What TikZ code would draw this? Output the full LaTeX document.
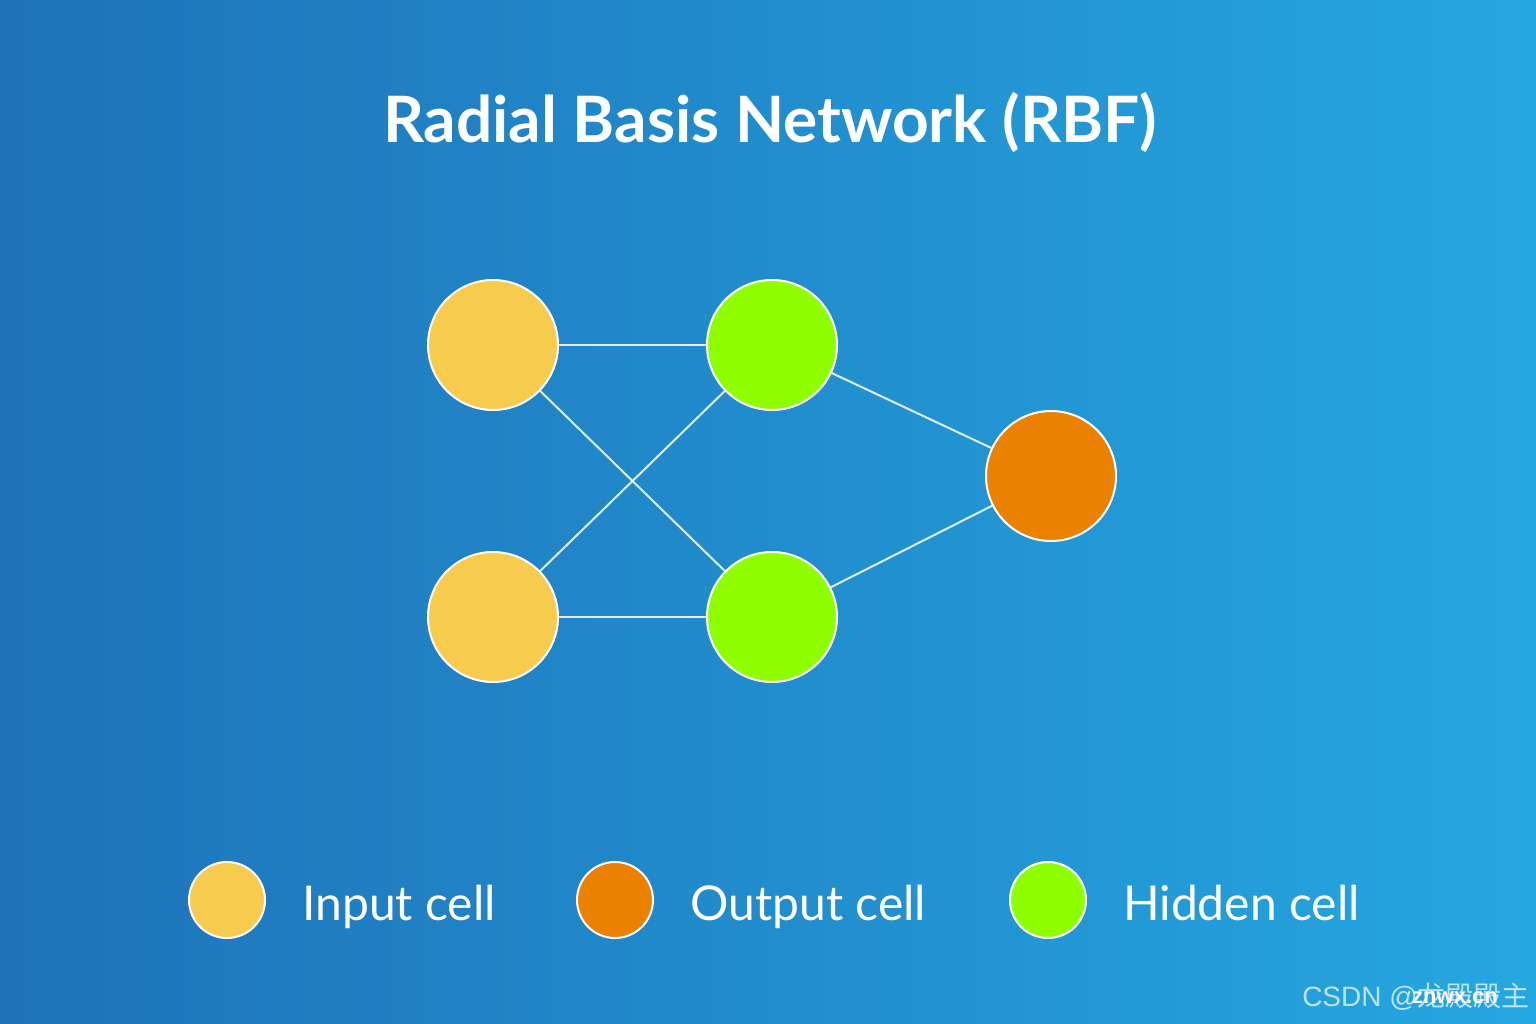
\documentclass[tikz,border=0pt]{standalone}
\usepackage{fontspec}
\setmainfont{Lato}
\newfontfamily\cjkfont{Noto Sans CJK SC}
\newfontfamily\wmfont{Liberation Sans}
\definecolor{bgL}{HTML}{1E72B8}
\definecolor{bgR}{HTML}{25A7E0}
\definecolor{inC}{HTML}{F7CB4D}
\definecolor{hidC}{HTML}{8FFF00}
\definecolor{outC}{HTML}{EB8100}
\tikzset{
  cell/.style={circle, draw=white, line width=2pt, minimum size=130pt, inner sep=0pt},
  lcell/.style={circle, draw=white, line width=2pt, minimum size=76pt, inner sep=0pt},
  link/.style={draw=white, line width=2pt, opacity=0.85},
  legtxt/.style={anchor=base west, text=white, font=\fontsize{48}{56}\selectfont, inner sep=0pt},
}
\begin{document}
\begin{tikzpicture}[x=1pt,y=-1pt]
\shade[left color=bgL, right color=bgR] (0,0) rectangle (1536,1024);
\useasboundingbox (0,0) rectangle (1536,1024);
\node[text=white, font=\bfseries\fontsize{64}{72}\selectfont, inner sep=0pt] (title) at (770,122) {Radial Basis Network (RBF)};
\node[cell, fill=inC] (i1) at (493,345) {};
\node[cell, fill=inC] (i2) at (493,617) {};
\node[cell, fill=hidC] (h1) at (772,345) {};
\node[cell, fill=hidC] (h2) at (772,617) {};
\node[cell, fill=outC] (o) at (1051,476) {};
\draw[link] (i1) -- (h1);
\draw[link] (i1) -- (h2);
\draw[link] (i2) -- (h1);
\draw[link] (i2) -- (h2);
\draw[link] (h1) -- (o);
\draw[link] (h2) -- (o);
\node[lcell, fill=inC] (li) at (227,900) {};
\node[legtxt] (lit) at (302,920) {Input cell};
\node[lcell, fill=outC] (lo) at (615,900) {};
\node[legtxt] (lot) at (690,920) {Output cell};
\node[lcell, fill=hidC] (lh) at (1048,900) {};
\node[legtxt] (lht) at (1123,920) {Hidden cell};
\node[anchor=base east, text=white, opacity=0.7, inner sep=0pt, font=\fontsize{28}{32}\selectfont] (wm) at (1530,1006) {\wmfont CSDN @\cjkfont 龙殿殿主};
\node[text=white, inner sep=0pt, font=\wmfont\bfseries\fontsize{22}{26}\selectfont] (wm2) at (1455,998) {znwx.cn};
\end{tikzpicture}
\end{document}
